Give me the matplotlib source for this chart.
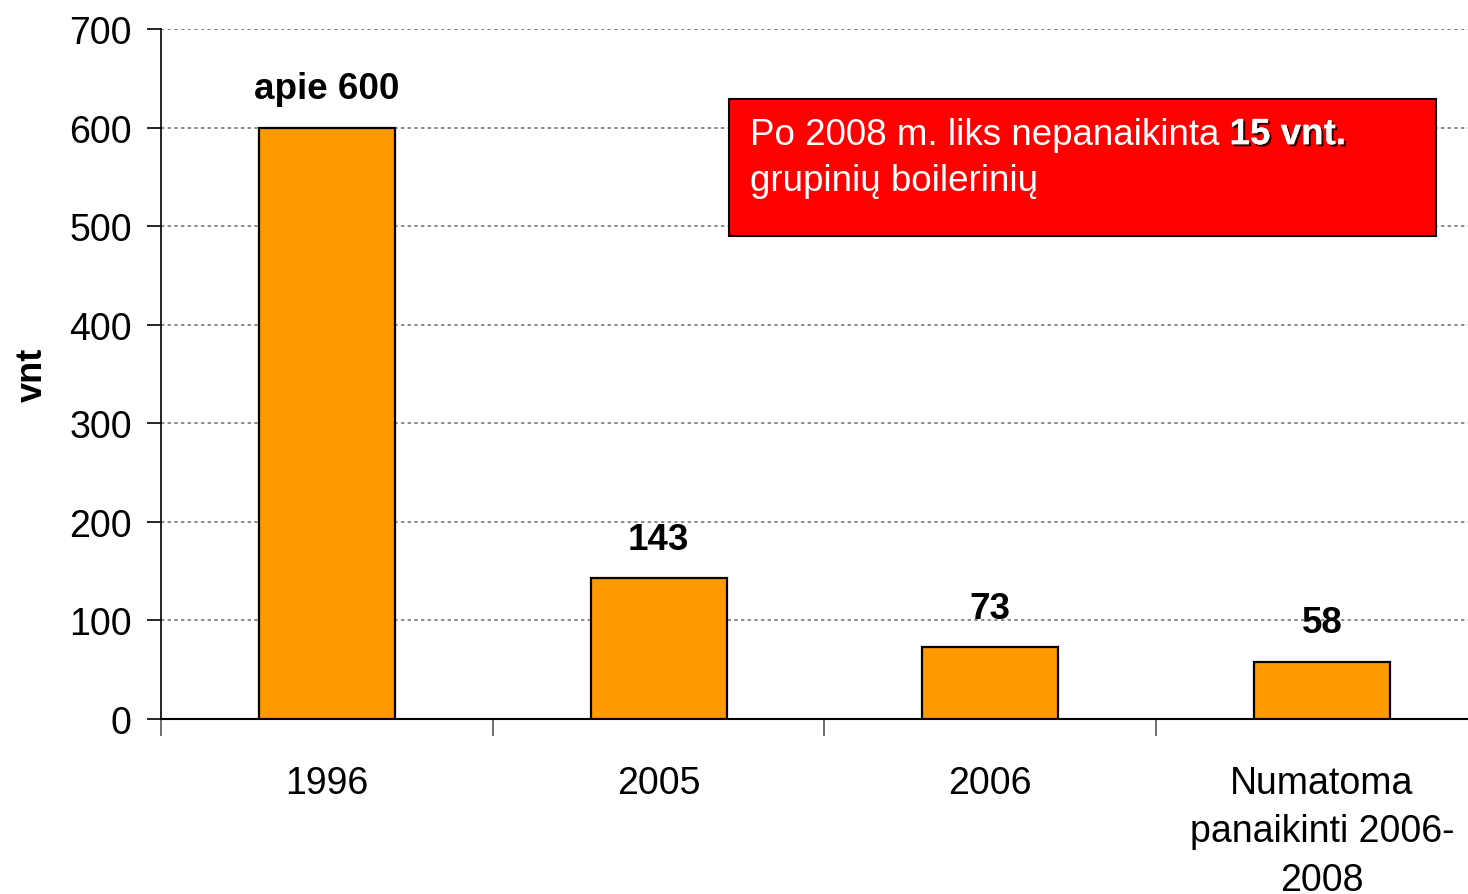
import matplotlib.pyplot as plt
import matplotlib.patheffects as pe
from matplotlib.patches import Rectangle

plt.rcParams['font.family'] = ['Liberation Sans', 'DejaVu Sans']

# duomenys
categories = ['1996', '2005', '2006', 'Numatoma\npanaikinti 2006-\n2008']
values = [600, 143, 73, 58]
bar_labels = ['apie 600', '143', '73', '58']

fig = plt.figure(figsize=(14.68, 8.95), dpi=100)
ax = fig.add_axes([0.1097, 0.1955, 0.8903, 0.771])

x = range(len(categories))
ax.bar(x, values, width=0.41, color='#FF9900', edgecolor='black', linewidth=1.6, zorder=3)

for xi, v, lab in zip(x, values, bar_labels):
    ax.annotate(lab, (xi, v), xytext=(0, 15.5), textcoords='offset points',
                ha='center', va='bottom', fontsize=26.5, fontweight='bold')

ax.set_xlim(-0.5, 3.44)
ax.set_ylim(0, 700)
ax.set_yticks(range(0, 701, 100))
ax.tick_params(axis='y', labelsize=27, length=10, width=1.2, pad=11)
ax.set_xticks(list(x))
ax.set_xticklabels(categories, fontsize=27, linespacing=1.45)
ax.tick_params(axis='x', length=0, pad=33)
ax.set_xticks([-0.5, 0.5, 1.5, 2.5], minor=True)
ax.tick_params(axis='x', which='minor', length=12, width=1.2, color='#555555')
ax.yaxis.grid(True, linestyle=(0, (2, 2)), color='#777777', linewidth=1.2, zorder=0)
ax.set_axisbelow(True)

for s in ['top', 'right']:
    ax.spines[s].set_visible(False)
ax.spines['left'].set_linewidth(1.2)
ax.spines['bottom'].set_linewidth(1.5)

ax.set_ylabel('vnt', fontsize=26, fontweight='bold', labelpad=14)

# raudonas langelis
box = Rectangle((0.4346, 0.70), 0.5409, 0.1986, transform=ax.transAxes,
                facecolor='#FF0000', edgecolor='black', linewidth=1.5, zorder=5)
ax.add_patch(box)
t1 = ax.text(0.4505, 0.833, 'Po 2008 m. liks nepanaikinta ', transform=ax.transAxes,
             fontsize=26.5, color='white', va='baseline', ha='left', zorder=6)
ax.annotate('15 vnt.', xy=(1, 0), xycoords=t1, va='bottom', ha='left',
            fontsize=26.5, fontweight='bold', color='white', zorder=6,
            path_effects=[pe.withSimplePatchShadow(offset=(1.5, -1.5), shadow_rgbFace='black', alpha=0.8), pe.Normal()])
ax.text(0.4505, 0.767, 'grupinių boilerinių', transform=ax.transAxes,
        fontsize=26.5, color='white', va='baseline', ha='left', zorder=6)

plt.savefig('out.png', dpi=100)
